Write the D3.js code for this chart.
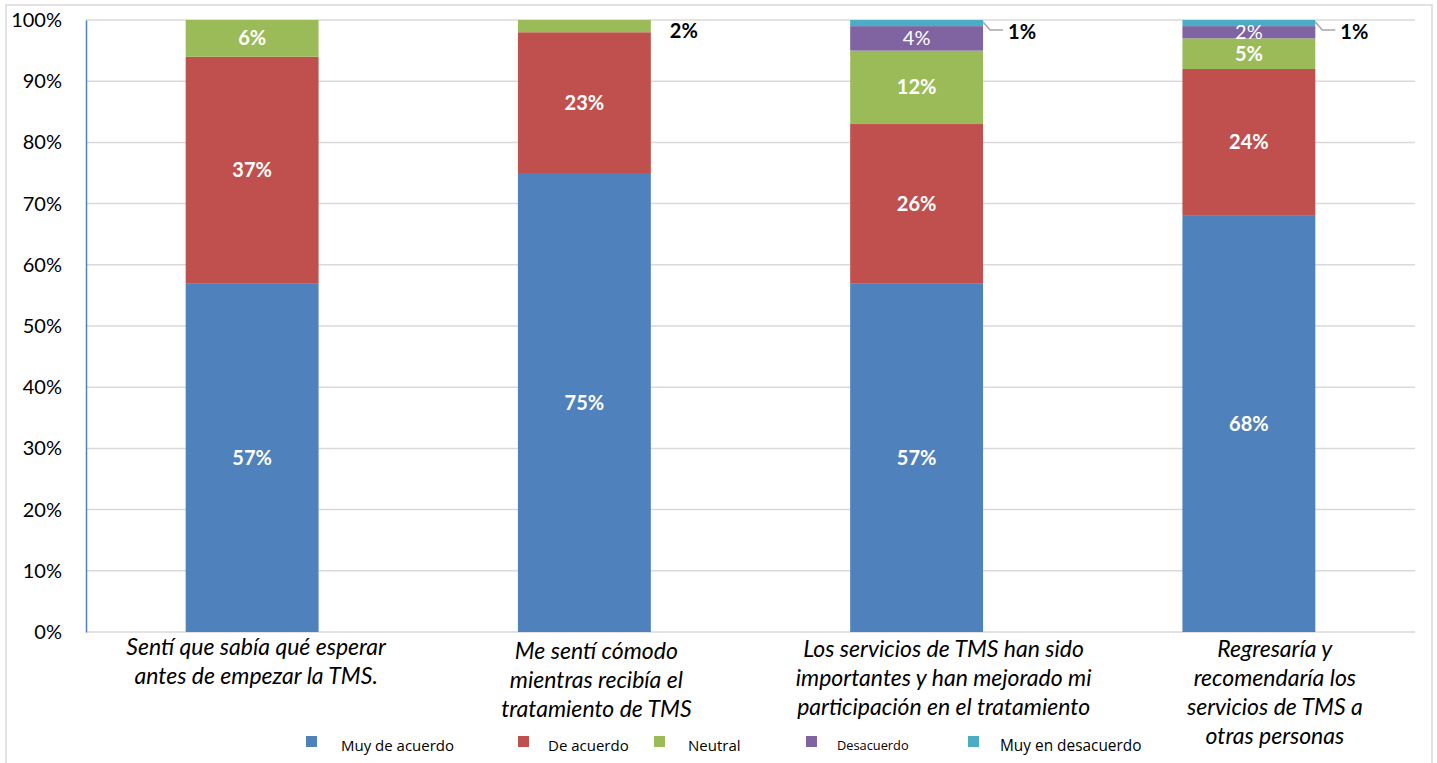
<!DOCTYPE html>
<html><head><meta charset="utf-8">
<script src="https://cdn.jsdelivr.net/npm/d3@7"></script>
<style>body{margin:0;background:#fff}svg{display:block}</style>
</head><body>
<script>
const categories = [
  ["Sentí que sabía qué esperar", "antes de empezar la TMS."],
  ["Me sentí cómodo", "mientras recibía el", "tratamiento de TMS"],
  ["Los servicios de TMS han sido", "importantes y han mejorado mi", "participación en el tratamiento"],
  ["Regresaría y", "recomendaría los", "servicios de TMS a", "otras personas"]
];
const seriesNames = ["Muy de acuerdo", "De acuerdo", "Neutral", "Desacuerdo", "Muy en desacuerdo"];
const muyDeAcuerdo = [57, 75, 57, 68];
const deAcuerdo = [37, 23, 26, 24];
const neutral = [6, 2, 12, 5];
const desacuerdo = [0, 0, 4, 2];
const muyEnDesacuerdo = [0, 0, 1, 1];
const yTicks = [0, 10, 20, 30, 40, 50, 60, 70, 80, 90, 100];
const colors = ["#4f81bd", "#c0504d", "#9bbb59", "#8064a2", "#4bacc6"];

const W = 1437, H = 763;
const margin = {left: 86, right: 22, top: 20, bottom: 131};
const svg = d3.select("body").append("svg").attr("width", W).attr("height", H)
  .style("font-family", "Lato, 'Open Sans', sans-serif");

svg.append("rect").attr("x", 6).attr("y", 5).attr("width", 1426).attr("height", 800)
  .attr("fill", "#fff").attr("stroke", "#d9d9d9").attr("stroke-width", 1.5);

const x = d3.scaleBand().domain(d3.range(categories.length))
  .range([margin.left, W - margin.right]).paddingInner(0.6).paddingOuter(0.3);
const y = d3.scaleLinear().domain([0, 100]).range([H - margin.bottom, margin.top]);

// grid
svg.append("g").selectAll("line").data(yTicks).join("line")
  .attr("x1", margin.left).attr("x2", W - margin.right)
  .attr("y1", d => y(d)).attr("y2", d => y(d))
  .attr("stroke", "#d9d9d9").attr("stroke-width", 1.5);

// y axis labels
const yAxis = d3.axisLeft(y).tickValues(yTicks).tickFormat(d => d + "%").tickSize(0).tickPadding(24);
const ga = svg.append("g").attr("transform", `translate(${margin.left},0)`).call(yAxis);
ga.select(".domain").attr("stroke", "#4f81bd").attr("stroke-width", 1.5);
ga.selectAll("text").attr("font-size", 20).attr("fill", "#000").attr("font-family", "Lato, sans-serif");

const seriesData = [muyDeAcuerdo, deAcuerdo, neutral, desacuerdo, muyEnDesacuerdo];
const rows = categories.map((c, i) => {
  const o = {i};
  seriesNames.forEach((s, k) => o[s] = seriesData[k][i]);
  return o;
});
const stack = d3.stack().keys(seriesNames)(rows);

const gBars = svg.append("g");
stack.forEach((layer, k) => {
  gBars.selectAll(null).data(layer.filter(d => d[1] - d[0] > 0)).join("rect")
    .attr("x", d => x(d.data.i)).attr("width", x.bandwidth())
    .attr("y", d => y(d[1])).attr("height", d => y(d[0]) - y(d[1]))
    .attr("fill", colors[k]);
});

// labels
const outside = {"1-2": true, "2-4": true, "3-4": true};
stack.forEach((layer, k) => {
  layer.forEach(d => {
    const v = d[1] - d[0];
    if (v <= 0) return;
    const i = d.data.i;
    const key = i + "-" + k;
    if (outside[key]) {
      const xr = x(i) + x.bandwidth();
      const yt = y(d[1]);
      if (k === 4) {
        svg.append("polyline")
          .attr("points", `${xr},${yt + 2} ${xr + 7},${yt + 10} ${xr + 20},${yt + 10}`)
          .attr("fill", "none").attr("stroke", "#a6a6a6").attr("stroke-width", 1.5);
        svg.append("text").attr("x", xr + 25).attr("y", yt + 12).attr("dy", "0.35em")
          .attr("font-size", 20).attr("font-weight", "bold").attr("fill", "#000").text(v + "%");
      } else {
        svg.append("text").attr("x", xr + 19).attr("y", yt + 11).attr("dy", "0.35em")
          .attr("font-size", 20).attr("font-weight", "bold").attr("fill", "#000").text(v + "%");
      }
    } else {
      svg.append("text").attr("x", x(i) + x.bandwidth() / 2).attr("y", (y(d[0]) + y(d[1])) / 2)
        .attr("dy", "0.35em").attr("text-anchor", "middle")
        .attr("font-size", 20).attr("font-weight", k === 3 ? "normal" : "bold")
        .attr("fill", "#fff").text(v + "%");
    }
  });
});

// category labels
const catDx = [4, 12, 27, 26];
const catDy = [0, 4, 2, 2];
categories.forEach((lines, i) => {
  const t = svg.append("text").attr("text-anchor", "middle").attr("font-style", "italic")
    .attr("font-size", 23).attr("fill", "#000").attr("font-family", "Lato, sans-serif");
  lines.forEach((ln, j) => {
    t.append("tspan").attr("x", x(i) + x.bandwidth() / 2 + catDx[i]).attr("y", 655 + catDy[i] + j * 29).text(ln);
  });
});

// legend
const legendX = [306, 518, 654, 806, 968];
const legendTX = [341, 548, 688, 837, 1000];
const legendFS = [15, 15, 15, 12.8, 15.4];
seriesNames.forEach((s, k) => {
  svg.append("rect").attr("x", legendX[k]).attr("y", 736).attr("width", 11).attr("height", 11).attr("fill", colors[k]);
  svg.append("text").attr("x", legendTX[k]).attr("y", 746).attr("dy", "0.35em")
    .attr("font-size", legendFS[k]).attr("fill", "#000").attr("font-family", "'Open Sans', sans-serif").text(s);
});
</script>
</body></html>
